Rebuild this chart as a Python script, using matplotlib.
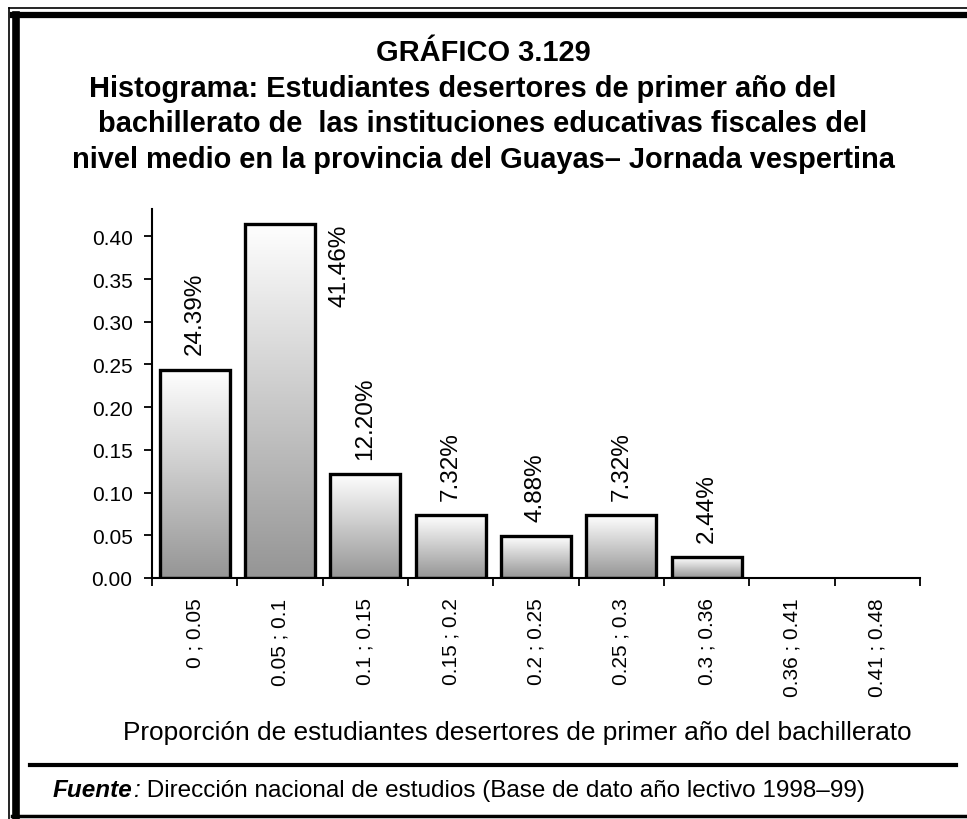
import numpy as np
import matplotlib
matplotlib.use("Agg")
import matplotlib.pyplot as plt
from matplotlib.colors import LinearSegmentedColormap
from matplotlib.lines import Line2D

plt.rcParams['font.family'] = ['Liberation Sans', 'DejaVu Sans']

# datos
intervalos = ["0 ; 0.05", "0.05 ; 0.1", "0.1 ; 0.15", "0.15 ; 0.2", "0.2 ; 0.25",
              "0.25 ; 0.3", "0.3 ; 0.36", "0.36 ; 0.41", "0.41 ; 0.48"]
frecuencia = [0.2439, 0.4146, 0.1220, 0.0732, 0.0488, 0.0732, 0.0244, 0.0, 0.0]
yticks = [0.00, 0.05, 0.10, 0.15, 0.20, 0.25, 0.30, 0.35, 0.40]

titulo = ("GRÁFICO 3.129\n"
          "Histograma: Estudiantes desertores de primer año del     \n"
          "bachillerato de  las instituciones educativas fiscales del\n"
          "nivel medio en la provincia del Guayas– Jornada vespertina")
xlabel = "Proporción de estudiantes desertores de primer año del bachillerato"
fuente = "Dirección nacional de estudios (Base de dato año lectivo 1998–99)"

fig = plt.figure(figsize=(9.67, 8.2), dpi=100)
ax = fig.add_axes([152/967, 1-579/820, (920-152)/967, (579-210)/820])

x = np.arange(len(intervalos))
ymax = 0.432
cmap = LinearSegmentedColormap.from_list("g", ["#ffffff", "#959595"])
grad = np.linspace(0, 1, 256).reshape(-1, 1)

bars = ax.bar(x, frecuencia, width=0.82, facecolor="none", edgecolor="black",
              linewidth=2.4, zorder=3)
for b, v in zip(bars, frecuencia):
    if v <= 0:
        b.set_visible(False)
        continue
    im = ax.imshow(grad, cmap=cmap, aspect="auto", zorder=2,
                   extent=(b.get_x(), b.get_x()+b.get_width(), 0, v), origin="upper")
    im.set_clip_path(b)

# etiquetas de porcentaje
for i, v in enumerate(frecuencia):
    if v <= 0:
        continue
    lab = f"{v*100:.2f}%"
    if v > 0.35:
        ax.text(i + 0.70, v, lab, rotation=90, ha="center", va="top", fontsize=17.5)
    else:
        ax.annotate(lab, (i, v), xytext=(0, 11), textcoords="offset points",
                    rotation=90, ha="center", va="bottom", fontsize=17.5)

ax.set_xlim(-0.5, len(intervalos) - 0.5)
ax.set_ylim(0, ymax)
ax.set_yticks(yticks)
ax.set_yticklabels([f"{t:.2f}" for t in yticks], fontsize=15)
ax.set_xticks(np.arange(len(intervalos) + 1) - 0.5)
ax.set_xticklabels([])
ax.set_xticks(x, minor=True)
ax.set_xticklabels(intervalos, minor=True, rotation=90, fontsize=15, va="top")
ax.tick_params(axis="x", which="minor", length=0, pad=14)
ax.tick_params(axis="x", which="major", direction="out", length=6, width=1.3)
ax.tick_params(axis="y", direction="out", length=6, width=1.3, pad=8)
for s in ["top", "right"]:
    ax.spines[s].set_visible(False)
for s in ["left", "bottom"]:
    ax.spines[s].set_linewidth(1.5)

fig.text(483/967, 1-39/820, titulo, ha="center", va="top", fontsize=20.9,
         fontweight="bold", linespacing=1.35)
fig.text(517/967, 1-733/820, xlabel, ha="center", va="center", fontsize=18.9)

# marco y separador
fig.add_artist(Line2D([8.5/967, 8.5/967], [0, 1-8.5/820], color="black", lw=1.2))
fig.add_artist(Line2D([8.5/967, 1], [1-8.5/820, 1-8.5/820], color="black", lw=1.2))
fig.add_artist(Line2D([15.5/967, 15.5/967], [0, 1-16/820], color="black", lw=5.5))
fig.add_artist(Line2D([13/967, 1], [1-16/820, 1-16/820], color="black", lw=4.5))
fig.add_artist(Line2D([12/967, 1], [1-817/820, 1-817/820], color="black", lw=2.5))
fig.add_artist(Line2D([30/967, 956/967], [1-766/820, 1-766/820], color="black", lw=3))

t1 = fig.text(53/967, 1-791/820, "Fuente", ha="left", va="center", fontsize=17.5,
              fontweight="bold", style="italic")
t2 = ax.annotate(":", xy=(1, 0.5), xycoords=t1, ha="left", va="center", fontsize=17.5,
                 style="italic", annotation_clip=False)
ax.annotate(" " + fuente, xy=(1, 0.5), xycoords=t2, ha="left", va="center",
            fontsize=17.5, annotation_clip=False)

fig.savefig("out.png", dpi=100)
